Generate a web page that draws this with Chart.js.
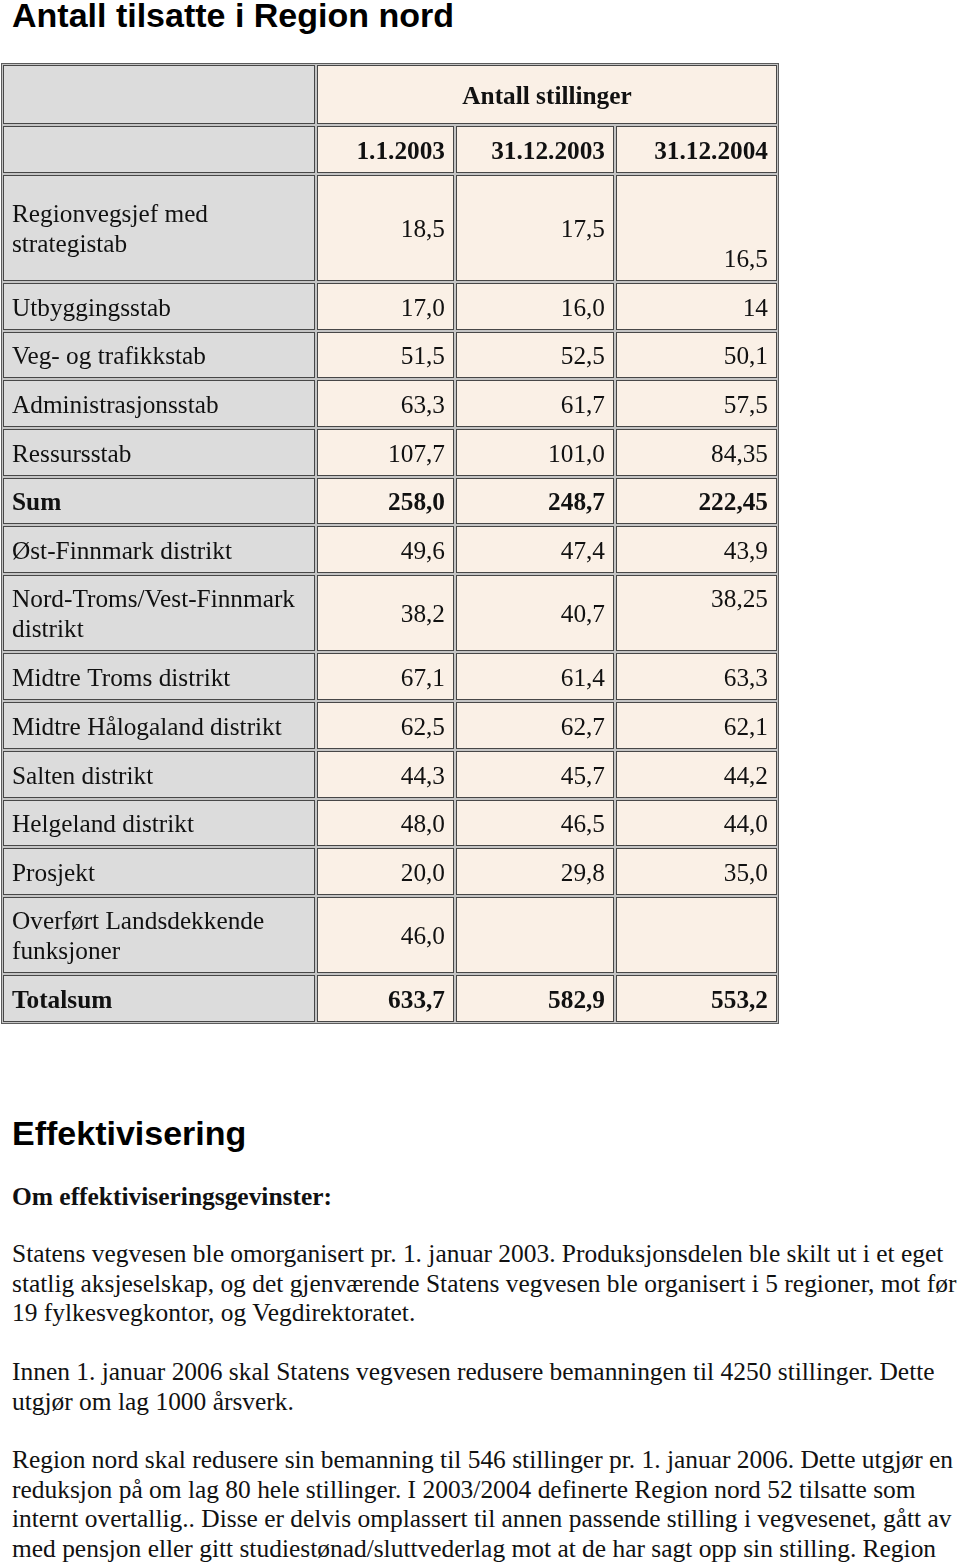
<!DOCTYPE html>
<html lang="no">
<head>
<meta charset="utf-8">
<title>Antall tilsatte i Region nord</title>
<script src="https://cdn.jsdelivr.net/npm/chart.js@4.4.1/dist/chart.umd.min.js"></script>
<style>
  html, body { margin: 0; padding: 0; background: #fff; }
  body { width: 960px; height: 1562px; position: relative; overflow: hidden; color: #000; }
  .h { position: absolute; left: 12px; white-space: nowrap; font-family: "Liberation Sans", Arial, sans-serif; font-weight: bold; font-size: 34px; line-height: 40px; }
  .p { position: absolute; left: 12px; white-space: nowrap; font-family: "Liberation Serif", "Times New Roman", serif; font-size: 25.45px; line-height: 29.7px; color: #111; }
  .p div { white-space: nowrap; }
  #wrap { position: absolute; left: 0; top: 62px; width: 780px; height: 966px; }
</style>
</head>
<body>
<div class="h" style="top:-5px">Antall tilsatte i Region nord</div>
<div id="wrap"><canvas id="tableChart"></canvas></div>

<div class="h" style="top:1113px">Effektivisering</div>
<div class="p" style="top:1182px;font-weight:bold">Om effektiviseringsgevinster:</div>
<div class="p" style="top:1239px">
  <div>Statens vegvesen ble omorganisert pr. 1. januar 2003. Produksjonsdelen ble skilt ut i et eget</div>
  <div>statlig aksjeselskap, og det gjenværende Statens vegvesen ble organisert i 5 regioner, mot før</div>
  <div>19 fylkesvegkontor, og Vegdirektoratet.</div>
</div>
<div class="p" style="top:1357px">
  <div>Innen 1. januar 2006 skal Statens vegvesen redusere bemanningen til 4250 stillinger. Dette</div>
  <div>utgjør om lag 1000 årsverk.</div>
</div>
<div class="p" style="top:1445px">
  <div>Region nord skal redusere sin bemanning til 546 stillinger pr. 1. januar 2006. Dette utgjør en</div>
  <div>reduksjon på om lag 80 hele stillinger. I 2003/2004 definerte Region nord 52 tilsatte som</div>
  <div>internt overtallig.. Disse er delvis omplassert til annen passende stilling i vegvesenet, gått av</div>
  <div>med pensjon eller gitt studiestønad/sluttvederlag mot at de har sagt opp sin stilling. Region</div>
</div>

<script>
// table content
const headerLabel = "Antall stillinger";
const dates = ["1.1.2003", "31.12.2003", "31.12.2004"];
const categories = [
    "Regionvegsjef med\nstrategistab",
    "Utbyggingsstab",
    "Veg- og trafikkstab",
    "Administrasjonsstab",
    "Ressursstab",
    "Sum",
    "Øst-Finnmark distrikt",
    "Nord-Troms/Vest-Finnmark\ndistrikt",
    "Midtre Troms distrikt",
    "Midtre Hålogaland distrikt",
    "Salten distrikt",
    "Helgeland distrikt",
    "Prosjekt",
    "Overført Landsdekkende\nfunksjoner",
    "Totalsum"
];
const stillinger2003jan = ["18,5", "17,0", "51,5", "63,3", "107,7", "258,0", "49,6", "38,2", "67,1", "62,5", "44,3", "48,0", "20,0", "46,0", "633,7"];
const stillinger2003des = ["17,5", "16,0", "52,5", "61,7", "101,0", "248,7", "47,4", "40,7", "61,4", "62,7", "45,7", "46,5", "29,8", "", "582,9"];
const stillinger2004des = ["\n\n16,5", "14", "50,1", "57,5", "84,35", "222,45", "43,9", "38,25\n", "63,3", "62,1", "44,2", "44,0", "35,0", "", "553,2"];
const boldRows = ["Sum", "Totalsum"];

// layout
const LINE_H = 29.7, ROW_PAD = 19, HEAD_H = 61;
const COL_W = [314, 139, 160, 163];
const START = 2;
const FONT = '"Liberation Serif", "Times New Roman", serif';

function lineCount(s) { return s.split("\n").length; }

const columns = [stillinger2003jan, stillinger2003des, stillinger2004des];
const rowHeights = [HEAD_H, ROW_PAD + LINE_H].concat(categories.map(function (c, i) {
    return ROW_PAD + LINE_H * Math.max(lineCount(c), ...columns.map(col => lineCount(col[i])));
}));

const colEdges = [START];
COL_W.forEach(w => colEdges.push(colEdges[colEdges.length - 1] + w));
const rowEdges = [START];
rowHeights.forEach(h => rowEdges.push(rowEdges[rowEdges.length - 1] + h));

const tablePlugin = {
    id: "cellTable",
    afterDraw(chart, args, opts) {
        const ctx = chart.ctx;
        const x = chart.scales.x, y = chart.scales.y;
        const px = v => Math.round(x.getPixelForValue(v));
        const py = v => Math.round(y.getPixelForValue(v));

        const last = colEdges.length - 1, lastR = rowEdges.length - 1;
        ctx.save();
        // outer frame and cell spacing
        ctx.fillStyle = "#5c5c5c";
        ctx.fillRect(px(START - 1), py(START - 1), px(colEdges[last] + 1) - px(START - 1), py(rowEdges[lastR] + 1) - py(START - 1));
        ctx.fillStyle = "#c4c4c4";
        ctx.fillRect(px(START), py(START), px(colEdges[last]) - px(START), py(rowEdges[lastR]) - py(START));

        function cell(c0, c1, r, fill) {
            const l = px(colEdges[c0]) + 1, rt = px(colEdges[c1 + 1]) - 1;
            const t = py(rowEdges[r]) + 1, b = py(rowEdges[r + 1]) - 1;
            ctx.fillStyle = fill;
            ctx.fillRect(l, t, rt - l, b - t);
            ctx.strokeStyle = "#474747";
            ctx.lineWidth = 1;
            ctx.strokeRect(l + 0.5, t + 0.5, rt - l - 1, b - t - 1);
            return { l, rt, t, b };
        }
        function text(s, box, align, bold) {
            if (!s) return;
            const lines = s.split("\n");
            const mid = (box.t + box.b) / 2;
            let yy = mid - (lines.length * LINE_H) / 2 + LINE_H / 2;
            ctx.font = (bold ? "bold " : "") + opts.fontSize + "px " + FONT;
            ctx.fillStyle = "#111";
            ctx.textBaseline = "middle";
            ctx.textAlign = align;
            const tx = align === "left" ? box.l + 9 : align === "right" ? box.rt - 9 : (box.l + box.rt) / 2;
            lines.forEach(function (ln) {
                ctx.fillText(ln, tx, yy + opts.baseShift);
                yy += LINE_H;
            });
        }

        // header rows
        cell(0, 0, 0, opts.labelFill);
        text(opts.header, cell(1, 3, 0, opts.valueFill), "center", true);
        cell(0, 0, 1, opts.labelFill);
        opts.dates.forEach((d, i) => text(d, cell(i + 1, i + 1, 1, opts.valueFill), "right", true));

        // body rows
        opts.categories.forEach(function (cat, i) {
            const r = i + 2;
            const bold = opts.boldRows.indexOf(cat) >= 0;
            text(cat, cell(0, 0, r, opts.labelFill), "left", bold);
            opts.columns.forEach((col, j) => text(col[i], cell(j + 1, j + 1, r, opts.valueFill), "right", bold));
        });
        ctx.restore();
    }
};

new Chart(document.getElementById("tableChart").getContext("2d"), {
    type: "scatter",
    data: { datasets: [] },
    options: {
        responsive: true,
        maintainAspectRatio: false,
        animation: false,
        events: [],
        layout: { padding: 0 },
        scales: {
            x: { type: "linear", min: 0, max: 780, display: false },
            y: { type: "linear", min: 0, max: 966, reverse: true, display: false }
        },
        plugins: {
            legend: { display: false },
            tooltip: { enabled: false },
            cellTable: {
                header: headerLabel,
                dates: dates,
                categories: categories,
                columns: columns,
                boldRows: boldRows,
                labelFill: "#dcdcdc",
                valueFill: "#faf0e6",
                fontSize: 25.3,
                baseShift: 2.5
            }
        }
    },
    plugins: [tablePlugin]
});
</script>
</body>
</html>
